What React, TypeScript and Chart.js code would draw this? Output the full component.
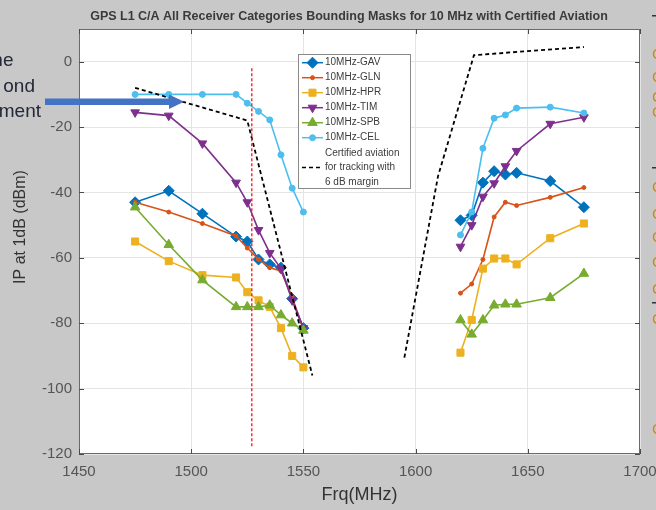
import React, { useEffect, useRef } from 'react';
import { Chart, registerables } from 'chart.js';
import { drawPoint } from 'chart.js/helpers';

Chart.register(...registerables);

// ---------- data ----------
const TITLE = 'GPS L1 C/A All Receiver Categories Bounding Masks for 10 MHz with Certified Aviation';
const X_LABEL = 'Frq(MHz)';
const Y_LABEL = 'IP at 1dB (dBm)';
const X_TICKS = [1450, 1500, 1550, 1600, 1650, 1700];
const Y_TICKS = [-120, -100, -80, -60, -40, -20, 0];

const FREQ_LOW = [1475, 1490, 1505, 1520, 1525, 1530, 1535, 1540, 1545, 1550];
const FREQ_HIGH = [1620, 1625, 1630, 1635, 1640, 1645, 1660, 1675];

const SERIES_NAMES = ['10MHz-GAV', '10MHz-GLN', '10MHz-HPR', '10MHz-TIM', '10MHz-SPB', '10MHz-CEL'];

const GAV_LOW = [-43, -39.5, -46.5, -53.5, -55, -60.5, -62, -63, -72.5, -81.5];
const GAV_HIGH = [-48.5, -47, -37, -33.5, -34.5, -34, -36.5, -44.5];
const GLN_LOW = [-43, -46, -49.5, -53.3, -57, -60.5, -63, -64, -72, -82];
const GLN_HIGH = [-70.8, -68, -60.5, -47.5, -43, -44, -41.5, -38.5];
const HPR_LOW = [-55, -61, -65.3, -66, -70.5, -73, -75, -81.5, -90, -93.5];
const HPR_HIGH = [-89, -79, -63.3, -60.2, -60.2, -62, -54, -49.5];
const TIM_LOW = [-15.5, -16.5, -25, -37, -43, -51.5, -58.5, -63.3, -73, -81.5];
const TIM_HIGH = [-56.6, -50, -41.3, -37.2, -32, -27.3, -19, -17];
const SPB_LOW = [-44.5, -56, -66.8, -75, -75, -75, -74.5, -77.5, -80, -82.2];
const SPB_HIGH = [-79, -83.4, -79, -74.5, -74.2, -74.2, -72.2, -64.8];
const CEL_LOW = [-10, -10, -10, -10, -12.7, -15.2, -17.8, -28.5, -38.7, -46];
const CEL_HIGH = [-53, -46, -26.5, -17.3, -16.3, -14.2, -13.9, -15.7];

const AVIATION_LOW_FREQ = [1475, 1525, 1554];
const AVIATION_LOW_DBM = [-8, -18, -96];
const AVIATION_HIGH_FREQ = [1595, 1610, 1626, 1675];
const AVIATION_HIGH_DBM = [-90.5, -35, 2, 4.5];
const AVIATION_NOTE = ['Certified aviation', 'for tracking with', '6 dB margin'];

const MARKER_FREQ = [1527, 1527];
const MARKER_DBM = [-2, -118];

const LEFT_FRAGMENTS = ['ne', 'ond', 'ment'];

// ---------- styles ----------
const FONT = "'Liberation Sans', Arial, Helvetica, sans-serif";
const COLORS = ['#0072BD', '#D95319', '#EDB120', '#7E2F8E', '#77AC30', '#4DBEEE'];
const STYLES = [
  { pointStyle: 'rectRot', radius: 5.5, rotation: 0 },
  { pointStyle: 'circle', radius: 2, rotation: 0 },
  { pointStyle: 'rect', radius: 5, rotation: 0 },
  { pointStyle: 'triangle', radius: 5, rotation: 180 },
  { pointStyle: 'triangle', radius: 5.5, rotation: 0 },
  { pointStyle: 'circle', radius: 3, rotation: 0 },
];

const pts = (f: number[], v: number[]) => f.map((x, i) => ({ x, y: v[i] }));
const withGap = (f1: number[], v1: number[], f2: number[], v2: number[]) => [
  ...pts(f1, v1),
  { x: (f1[f1.length - 1] + f2[0]) / 2, y: null },
  ...pts(f2, v2),
];

const SERIES = [
  [GAV_LOW, GAV_HIGH],
  [GLN_LOW, GLN_HIGH],
  [HPR_LOW, HPR_HIGH],
  [TIM_LOW, TIM_HIGH],
  [SPB_LOW, SPB_HIGH],
  [CEL_LOW, CEL_HIGH],
];

const decorPlugin = {
  id: 'decor',
  beforeDraw(chart: any) {
    const { ctx, chartArea: a } = chart;
    ctx.save();
    ctx.fillStyle = '#c8c8c8';
    ctx.fillRect(0, 0, chart.width, chart.height);
    ctx.fillStyle = '#ffffff';
    ctx.fillRect(a.left, a.top, a.right - a.left, a.bottom - a.top);
    ctx.restore();
  },
  afterDraw(chart: any) {
    const { ctx, chartArea: a } = chart;
    const xs = chart.scales.x;
    const ys = chart.scales.y;
    ctx.save();

    // frame
    ctx.strokeStyle = '#6a6a6a';
    ctx.lineWidth = 1;
    ctx.strokeRect(Math.round(a.left) + 0.5, Math.round(a.top) + 0.5, Math.round(a.right - a.left) - 1, Math.round(a.bottom - a.top) - 1);

    // inward ticks
    ctx.strokeStyle = '#4a4a4a';
    ctx.beginPath();
    X_TICKS.forEach((t) => {
      const px = Math.round(xs.getPixelForValue(t)) + 0.5;
      ctx.moveTo(px, a.bottom); ctx.lineTo(px, a.bottom - 5);
      ctx.moveTo(px, a.top); ctx.lineTo(px, a.top + 5);
    });
    Y_TICKS.forEach((t) => {
      const py = Math.round(ys.getPixelForValue(t)) + 0.5;
      ctx.moveTo(a.left, py); ctx.lineTo(a.left + 5, py);
      ctx.moveTo(a.right, py); ctx.lineTo(a.right - 5, py);
    });
    ctx.stroke();

    // title
    ctx.fillStyle = '#3a3a3a';
    ctx.font = `bold 12.5px ${FONT}`;
    ctx.textAlign = 'center';
    ctx.textBaseline = 'middle';
    ctx.fillText(TITLE, 349, 17, 533);

    // axis titles
    ctx.fillStyle = '#333333';
    ctx.font = `18px ${FONT}`;
    ctx.fillText(X_LABEL, (a.left + a.right) / 2, 495);
    ctx.save();
    ctx.translate(21, 227);
    ctx.rotate(-Math.PI / 2);
    ctx.font = `16px ${FONT}`;
    ctx.fillText(Y_LABEL, 0, 0);
    ctx.restore();

    // legend
    const lx = 298, ly = 54, lw = 112, lh = 134;
    ctx.fillStyle = '#ffffff';
    ctx.fillRect(lx, ly, lw, lh);
    ctx.strokeStyle = '#8a8a8a';
    ctx.lineWidth = 1;
    ctx.strokeRect(lx + 0.5, ly + 0.5, lw, lh);
    ctx.font = `10px ${FONT}`;
    ctx.textAlign = 'left';
    SERIES_NAMES.forEach((name, i) => {
      const y = 62.7 + i * 15;
      ctx.strokeStyle = COLORS[i];
      ctx.fillStyle = COLORS[i];
      ctx.lineWidth = 1.5;
      ctx.beginPath();
      ctx.moveTo(302, y); ctx.lineTo(323, y);
      ctx.stroke();
      ctx.lineWidth = 1;
      drawPoint(ctx, { pointStyle: STYLES[i].pointStyle, radius: STYLES[i].radius, rotation: STYLES[i].rotation, borderWidth: 1 } as any, 312.5, y);
      ctx.fillStyle = '#3c3c3c';
      ctx.fillText(name, 325, y);
    });
    ctx.strokeStyle = '#000';
    ctx.lineWidth = 1.5;
    ctx.setLineDash([4, 3]);
    ctx.beginPath();
    ctx.moveTo(302, 167.5); ctx.lineTo(322, 167.5);
    ctx.stroke();
    ctx.setLineDash([]);
    ctx.fillStyle = '#3c3c3c';
    AVIATION_NOTE.forEach((line, i) => ctx.fillText(line, 325, 153 + i * 14.5));

    // left slide fragments
    ctx.fillStyle = '#252838';
    ctx.font = `19px ${FONT}`;
    ctx.textAlign = 'right';
    const leftEnds = [13.5, 35, 41];
    LEFT_FRAGMENTS.forEach((t, i) => ctx.fillText(t, leftEnds[i], 61 + i * 25.5));

    // arrow
    ctx.fillStyle = '#4472C4';
    ctx.fillRect(45, 98.5, 126, 6.5);
    ctx.beginPath();
    ctx.moveTo(169, 94.5); ctx.lineTo(184, 101.7); ctx.lineTo(169, 109);
    ctx.closePath();
    ctx.fill();

    // right slide fragments (cut off at the page edge)
    ctx.font = `15px ${FONT}`;
    ctx.textAlign = 'left';
    const oranges = [55, 78, 98, 113, 188, 215, 238, 263, 290, 320, 430];
    ctx.fillStyle = '#c98a2e';
    oranges.forEach((y) => ctx.fillText('C', 652, y));
    ctx.fillStyle = '#333';
    [15, 167, 302].forEach((y) => ctx.fillRect(652, y, 4, 1.5));

    ctx.restore();
  },
};

export default function App() {
  const ref = useRef<HTMLCanvasElement | null>(null);
  useEffect(() => {
    if (!ref.current) return;
    const datasets: any[] = SERIES.map(([lo, hi], i) => ({
      label: SERIES_NAMES[i],
      data: withGap(FREQ_LOW, lo, FREQ_HIGH, hi),
      borderColor: COLORS[i],
      backgroundColor: COLORS[i],
      pointBackgroundColor: COLORS[i],
      pointBorderColor: COLORS[i],
      borderWidth: 1.6,
      pointStyle: STYLES[i].pointStyle,
      pointRadius: STYLES[i].radius,
      pointRotation: STYLES[i].rotation,
      pointBorderWidth: 1,
      spanGaps: false,
      tension: 0,
      order: 10 - i,
    }));
    datasets.push({
      label: 'Certified aviation',
      data: withGap(AVIATION_LOW_FREQ, AVIATION_LOW_DBM, AVIATION_HIGH_FREQ, AVIATION_HIGH_DBM),
      borderColor: '#000000',
      borderWidth: 1.8,
      borderDash: [4, 3],
      pointRadius: 0,
      spanGaps: false,
      order: 2,
    });
    datasets.push({
      label: 'marker',
      data: pts(MARKER_FREQ, MARKER_DBM),
      borderColor: '#ff2020',
      borderWidth: 1.4,
      borderDash: [3, 2],
      pointRadius: 0,
      order: 1,
    });

    const chart = new Chart(ref.current, {
      type: 'line',
      data: { datasets },
      plugins: [decorPlugin],
      options: {
        animation: false,
        responsive: false,
        devicePixelRatio: 1,
        events: [],
        layout: { padding: { left: 0, top: 29, right: 16, bottom: 0 } },
        plugins: { legend: { display: false }, tooltip: { enabled: false }, title: { display: false } },
        scales: {
          x: {
            type: 'linear',
            min: 1450,
            max: 1700,
            afterBuildTicks: (s: any) => { s.ticks = X_TICKS.map((v) => ({ value: v })); },
            afterFit: (s: any) => { s.height = 56; s.paddingLeft = 0; s.paddingRight = 0; },
            ticks: { color: '#555555', font: { size: 15, family: FONT }, padding: 9, maxRotation: 0, autoSkip: false, callback: (v: any) => String(v) },
            grid: { color: '#e4e4e4', drawTicks: false },
            border: { display: false },
          },
          y: {
            type: 'linear',
            min: -120,
            max: 10,
            afterBuildTicks: (s: any) => { s.ticks = Y_TICKS.map((v) => ({ value: v })); },
            afterFit: (s: any) => { s.width = 79; s.paddingTop = 0; s.paddingBottom = 0; },
            ticks: { color: '#555555', font: { size: 15, family: FONT }, padding: 7, autoSkip: false, callback: (v: any) => String(v) },
            grid: { color: '#e4e4e4', drawTicks: false },
            border: { display: false },
          },
        },
      },
    });
    return () => chart.destroy();
  }, []);

  return (
    <div style={{ position: 'fixed', left: 0, top: 0, width: 656, height: 510, background: '#c8c8c8' }}>
      <canvas ref={ref} width={656} height={510} style={{ width: 656, height: 510, display: 'block' }} />
    </div>
  );
}
